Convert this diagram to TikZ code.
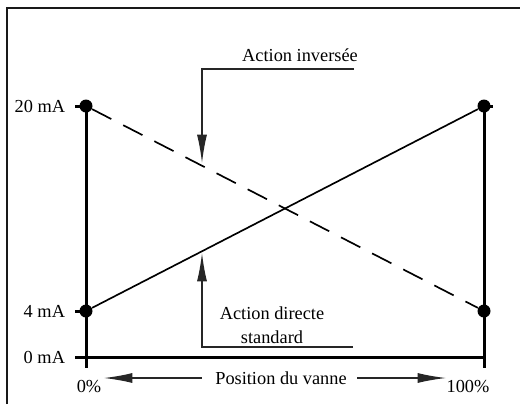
\documentclass[tikz,border=0pt]{standalone}
\usepackage{fontspec}
\setmainfont{Liberation Serif}
\usetikzlibrary{arrows.meta,positioning}

\tikzset{
  axisline/.style={line width=1.8pt},
  valvedot/.style={circle,fill=black,inner sep=0pt,minimum size=7.8pt},
  lbl/.style={font=\fontsize{11}{14.4}\selectfont,inner sep=1pt},
  pointer/.style={line width=0.8pt,draw=black!85,-{Latex[length=17pt,width=6pt]}},
}

\begin{document}
\begin{tikzpicture}[x=0.6pt,y=-0.6pt]
		\useasboundingbox (0,0) rectangle (520,404);
		% cadre
		\draw[line width=1.6pt,black!90] (7,404) -- (7,8) -- (520,8);
		% points de mesure
		\node[valvedot] (a20) at (86,106) {};
		\node[valvedot] (a4) at (86,311) {};
		\node[valvedot] (b20) at (484,106) {};
		\node[valvedot] (b4) at (484,311) {};
		\coordinate (a0) at (86,357);
		\coordinate (b0) at (484,357);
		% axes
		\draw[axisline] (a20.center) -- (86,368);
		\draw[axisline] (b20.center) -- (484,368);
		\draw[axisline] (75,357) -- (b0);
		\draw[axisline] (a20.center) -- ++(-11,0);
		\draw[axisline] (a4.center) -- ++(-11,0);
		\draw[axisline] (b20.center) -- ++(9,0);
		% labels
		\node[lbl,anchor=east] (l20) at (67,106) {20 mA};
		\node[lbl,anchor=east] (l4) at (67,311) {4 mA};
		\node[lbl,anchor=east] (l0) at (67,357) {0 mA};
		\node[lbl] (p0) at (89,387) {0\%};
		\node[lbl] (p100) at (468,387) {100\%};
		\node[lbl] (pos) at (281,378) {Position du vanne};
		\node[lbl] (inv) at (300,55) {Action inversée};
		\node[lbl,align=center] (dir) at (272,325) {Action directe\\standard};
		% caracteristiques
		\draw[line width=1pt] (a4) -- (b20);
		\draw[line width=1pt,dash pattern=on 13pt off 8pt] (a20) -- (b4);
		% fleches
		\coordinate (invstart) at (354,69);
		\coordinate (invtip) at (202,163);
		\coordinate (dirstart) at (353,347);
		\coordinate (dirtip) at (202,253);
		\coordinate (lefttip) at (104,378);
		\coordinate (righttip) at (446,378);
		\draw[pointer] (invstart) -| (invtip);
		\draw[pointer] (dirstart) -| (dirtip);
		\draw[pointer] ([xshift=-7pt]pos.west) -- (lefttip);
		\draw[pointer] ([xshift=5pt]pos.east) -- (righttip);
	\end{tikzpicture}
\end{document}
